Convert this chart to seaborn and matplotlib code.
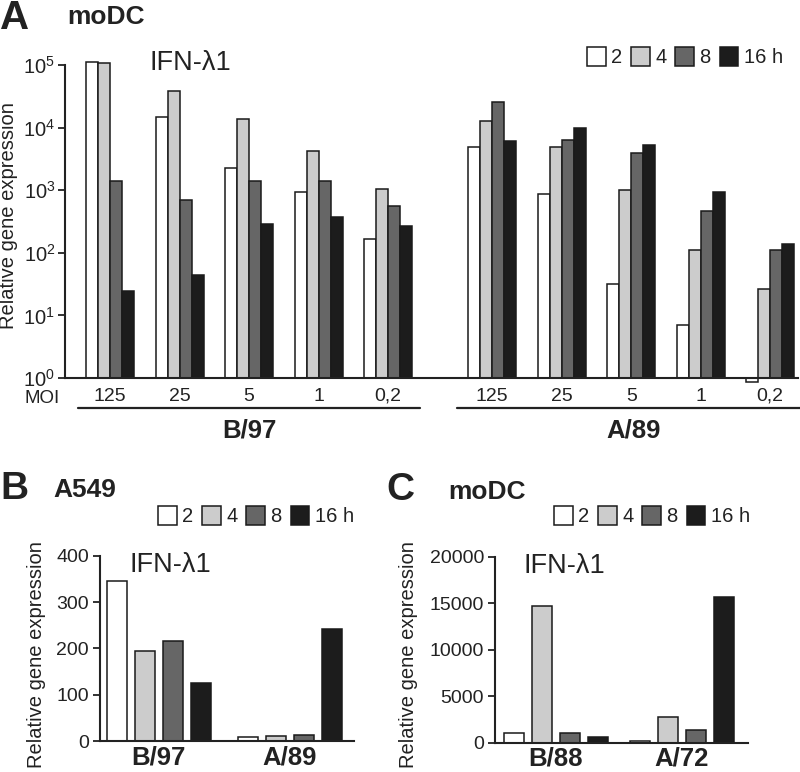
import numpy as np
import pandas as pd
import matplotlib
matplotlib.use('Agg')
import matplotlib.pyplot as plt
import matplotlib.ticker as mticker
from matplotlib.patches import Patch
import seaborn as sns

sns.set_style('ticks')
plt.rcParams['font.family'] = ['Liberation Sans', 'DejaVu Sans']
plt.rcParams['mathtext.default'] = 'regular'
plt.rcParams['text.color'] = '#222222'
plt.rcParams['axes.edgecolor'] = '#222222'
plt.rcParams['xtick.color'] = '#222222'
plt.rcParams['ytick.color'] = '#222222'

# time points (h) and their fill colours
times = ['2', '4', '8', '16 h']
colors = ['#ffffff', '#cccccc', '#666666', '#1c1c1c']

# panel A: moDC, log scale, MOI series
moi = ['125', '25', '5', '1', '0,2']
b97_t2 = [1.12e5, 14500, 2240, 930, 166]
b97_t4 = [1.07e5, 38000, 13500, 4250, 1050]
b97_t8 = [1400, 700, 1400, 1400, 565]
b97_t16 = [25, 45, 290, 380, 270]
a89_t2 = [4900, 880, 32, 7, 0.87]
a89_t4 = [12700, 4900, 1000, 110, 26]
a89_t8 = [25400, 6400, 4000, 470, 110]
a89_t16 = [6000, 9800, 5300, 940, 137]

# panel B: A549
strains_b = ['B/97', 'A/89']
a549_vals = [[345, 195, 216, 126],   # B/97 at 2,4,8,16 h
             [8, 11.5, 13, 242]]     # A/89

# panel C: moDC
strains_c = ['B/88', 'A/72']
modc_vals = [[1010, 14730, 1010, 645],
             [180, 2730, 1365, 15630]]

edge = '#1a1a1a'
W, H = 800, 772
fig = plt.figure(figsize=(W / 100, H / 100), dpi=100)


def fx(px):
    return px / W


def fy(py):
    return 1 - py / H


# ---------------- panel A ----------------
pos = np.r_[np.arange(5), np.arange(5) + 5.5]
rows = []
for series_b, series_a, t in zip([b97_t2, b97_t4, b97_t8, b97_t16],
                                 [a89_t2, a89_t4, a89_t8, a89_t16], times):
    for p, v in zip(pos, list(series_b) + list(series_a)):
        rows.append({'pos': p, 'time': t, 'value': v})
dfa = pd.DataFrame(rows)

axA = fig.add_axes([fx(65), fy(384.3), fx(798 - 65), (384.3 - 55.6) / H])
sns.barplot(data=dfa, x='pos', y='value', hue='time', hue_order=times,
            palette=colors, native_scale=True, width=0.69, errorbar=None,
            edgecolor=edge, linewidth=1.1, legend=False, ax=axA)
axA.set_yscale('log')
# bars grow from 10^0
for p in axA.patches:
    top = p.get_y() + p.get_height()
    p.set_y(1)
    p.set_height(top - 1)
axA.set_ylim(10 ** -0.1, 10 ** 5.15)
axA.set_xlim(-0.65, 9.9)
axA.set_yticks([1, 10, 100, 1e3, 1e4, 1e5])
axA.yaxis.set_major_formatter(mticker.LogFormatterSciNotation())
axA.yaxis.set_minor_locator(mticker.NullLocator())
axA.set_xticks(pos)
axA.set_xticklabels(moi * 2)
axA.tick_params(axis='x', length=0, pad=7, labelsize=14)
axA.tick_params(axis='y', length=5, width=1.3, pad=2, labelsize=14.5)
axA.set_xlabel('')
axA.set_ylabel('')
for s in ['top', 'right']:
    axA.spines[s].set_visible(False)
axA.spines['left'].set_bounds(1, 1e5)
axA.spines['bottom'].set_position(('data', 1))
for s in ['left', 'bottom']:
    axA.spines[s].set_linewidth(1.5)

fig.text(fx(24), fy(399), 'MOI', ha='left', va='center', fontsize=13.5)
tr = matplotlib.transforms.blended_transform_factory(axA.transData, fig.transFigure)
for x0, x1, lab, xc in [(-0.46, 4.46, 'B/97', 2.0), (4.99, 9.95, 'A/89', 7.53)]:
    axA.plot([x0, x1], [fy(408), fy(408)], color='#222222', lw=1.6,
             transform=tr, clip_on=False)
    axA.text(xc, fy(431), lab, transform=tr, ha='center', va='center',
             fontsize=18.5, fontweight='bold')

fig.text(fx(0), fy(18), 'A', ha='left', va='center', fontsize=29, fontweight='bold')
fig.text(fx(67), fy(17), 'moDC', ha='left', va='center', fontsize=19, fontweight='bold')
fig.text(fx(149), fy(63), 'IFN-λ1', ha='left', va='center', fontsize=19.5)
fig.text(fx(9), fy(216), 'Relative gene expression', rotation=90,
         ha='center', va='center', fontsize=14.5)

handles = [Patch(facecolor=c, edgecolor=edge, linewidth=1.1) for c in colors]


def add_legend(x_left, y_c):
    return fig.legend(handles, times, ncol=4, frameon=False, loc='center left',
                      bbox_to_anchor=(fx(x_left), fy(y_c)), fontsize=14.5,
                      handlelength=0.92, handleheight=1.05, handletextpad=0.27,
                      columnspacing=0.45, borderpad=0, borderaxespad=0)


add_legend(587, 57)


# ---------------- panels B and C ----------------
def small_panel(rect, strains, vals, ymax, yticks, xlim, width):
    rows = []
    for s, vv in zip(strains, vals):
        for t, v in zip(times, vv):
            rows.append({'strain': s, 'time': t, 'value': v})
    df = pd.DataFrame(rows)
    ax = fig.add_axes(rect)
    sns.barplot(data=df, x='strain', y='value', hue='time', hue_order=times,
                order=strains, palette=colors, width=width, gap=0.29,
                errorbar=None, edgecolor=edge, linewidth=1.1, legend=False, ax=ax)
    ax.set_ylim(0, ymax)
    ax.set_xlim(*xlim)
    ax.set_yticks(yticks)
    ax.set_xlabel('')
    ax.set_ylabel('')
    ax.tick_params(axis='x', length=0, pad=3, labelsize=18.5)
    for lab in ax.get_xticklabels():
        lab.set_fontweight('bold')
    ax.tick_params(axis='y', length=5, width=1.3, pad=3, labelsize=14)
    for s in ['top', 'right']:
        ax.spines[s].set_visible(False)
    for s in ['left', 'bottom']:
        ax.spines[s].set_linewidth(1.5)
    return ax


axB = small_panel([fx(100), fy(741), fx(354 - 100), (741 - 555.7) / H],
                  strains_b, a549_vals, 400, [0, 100, 200, 300, 400],
                  (-0.449, 1.49), 0.855)
fig.text(fx(0), fy(489), 'B', ha='left', va='center', fontsize=28, fontweight='bold')
fig.text(fx(53), fy(490), 'A549', ha='left', va='center', fontsize=19, fontweight='bold')
fig.text(fx(130), fy(565), 'IFN-λ1', ha='left', va='center', fontsize=19.5)
fig.text(fx(37), fy(655), 'Relative gene expression', rotation=90,
         ha='center', va='center', fontsize=14.5)
add_legend(158, 516)

axC = small_panel([fx(495), fy(742.7), fx(748 - 495), (742.7 - 556.7) / H],
                  strains_c, modc_vals, 20000, [0, 5000, 10000, 15000, 20000],
                  (-0.483, 1.524), 0.889)
fig.text(fx(386), fy(490), 'C', ha='left', va='center', fontsize=28, fontweight='bold')
fig.text(fx(448), fy(492), 'moDC', ha='left', va='center', fontsize=19, fontweight='bold')
fig.text(fx(523), fy(566), 'IFN-λ1', ha='left', va='center', fontsize=19.5)
fig.text(fx(408), fy(655), 'Relative gene expression', rotation=90,
         ha='center', va='center', fontsize=14.5)
add_legend(554, 516)

fig.savefig('out.png', dpi=100)
